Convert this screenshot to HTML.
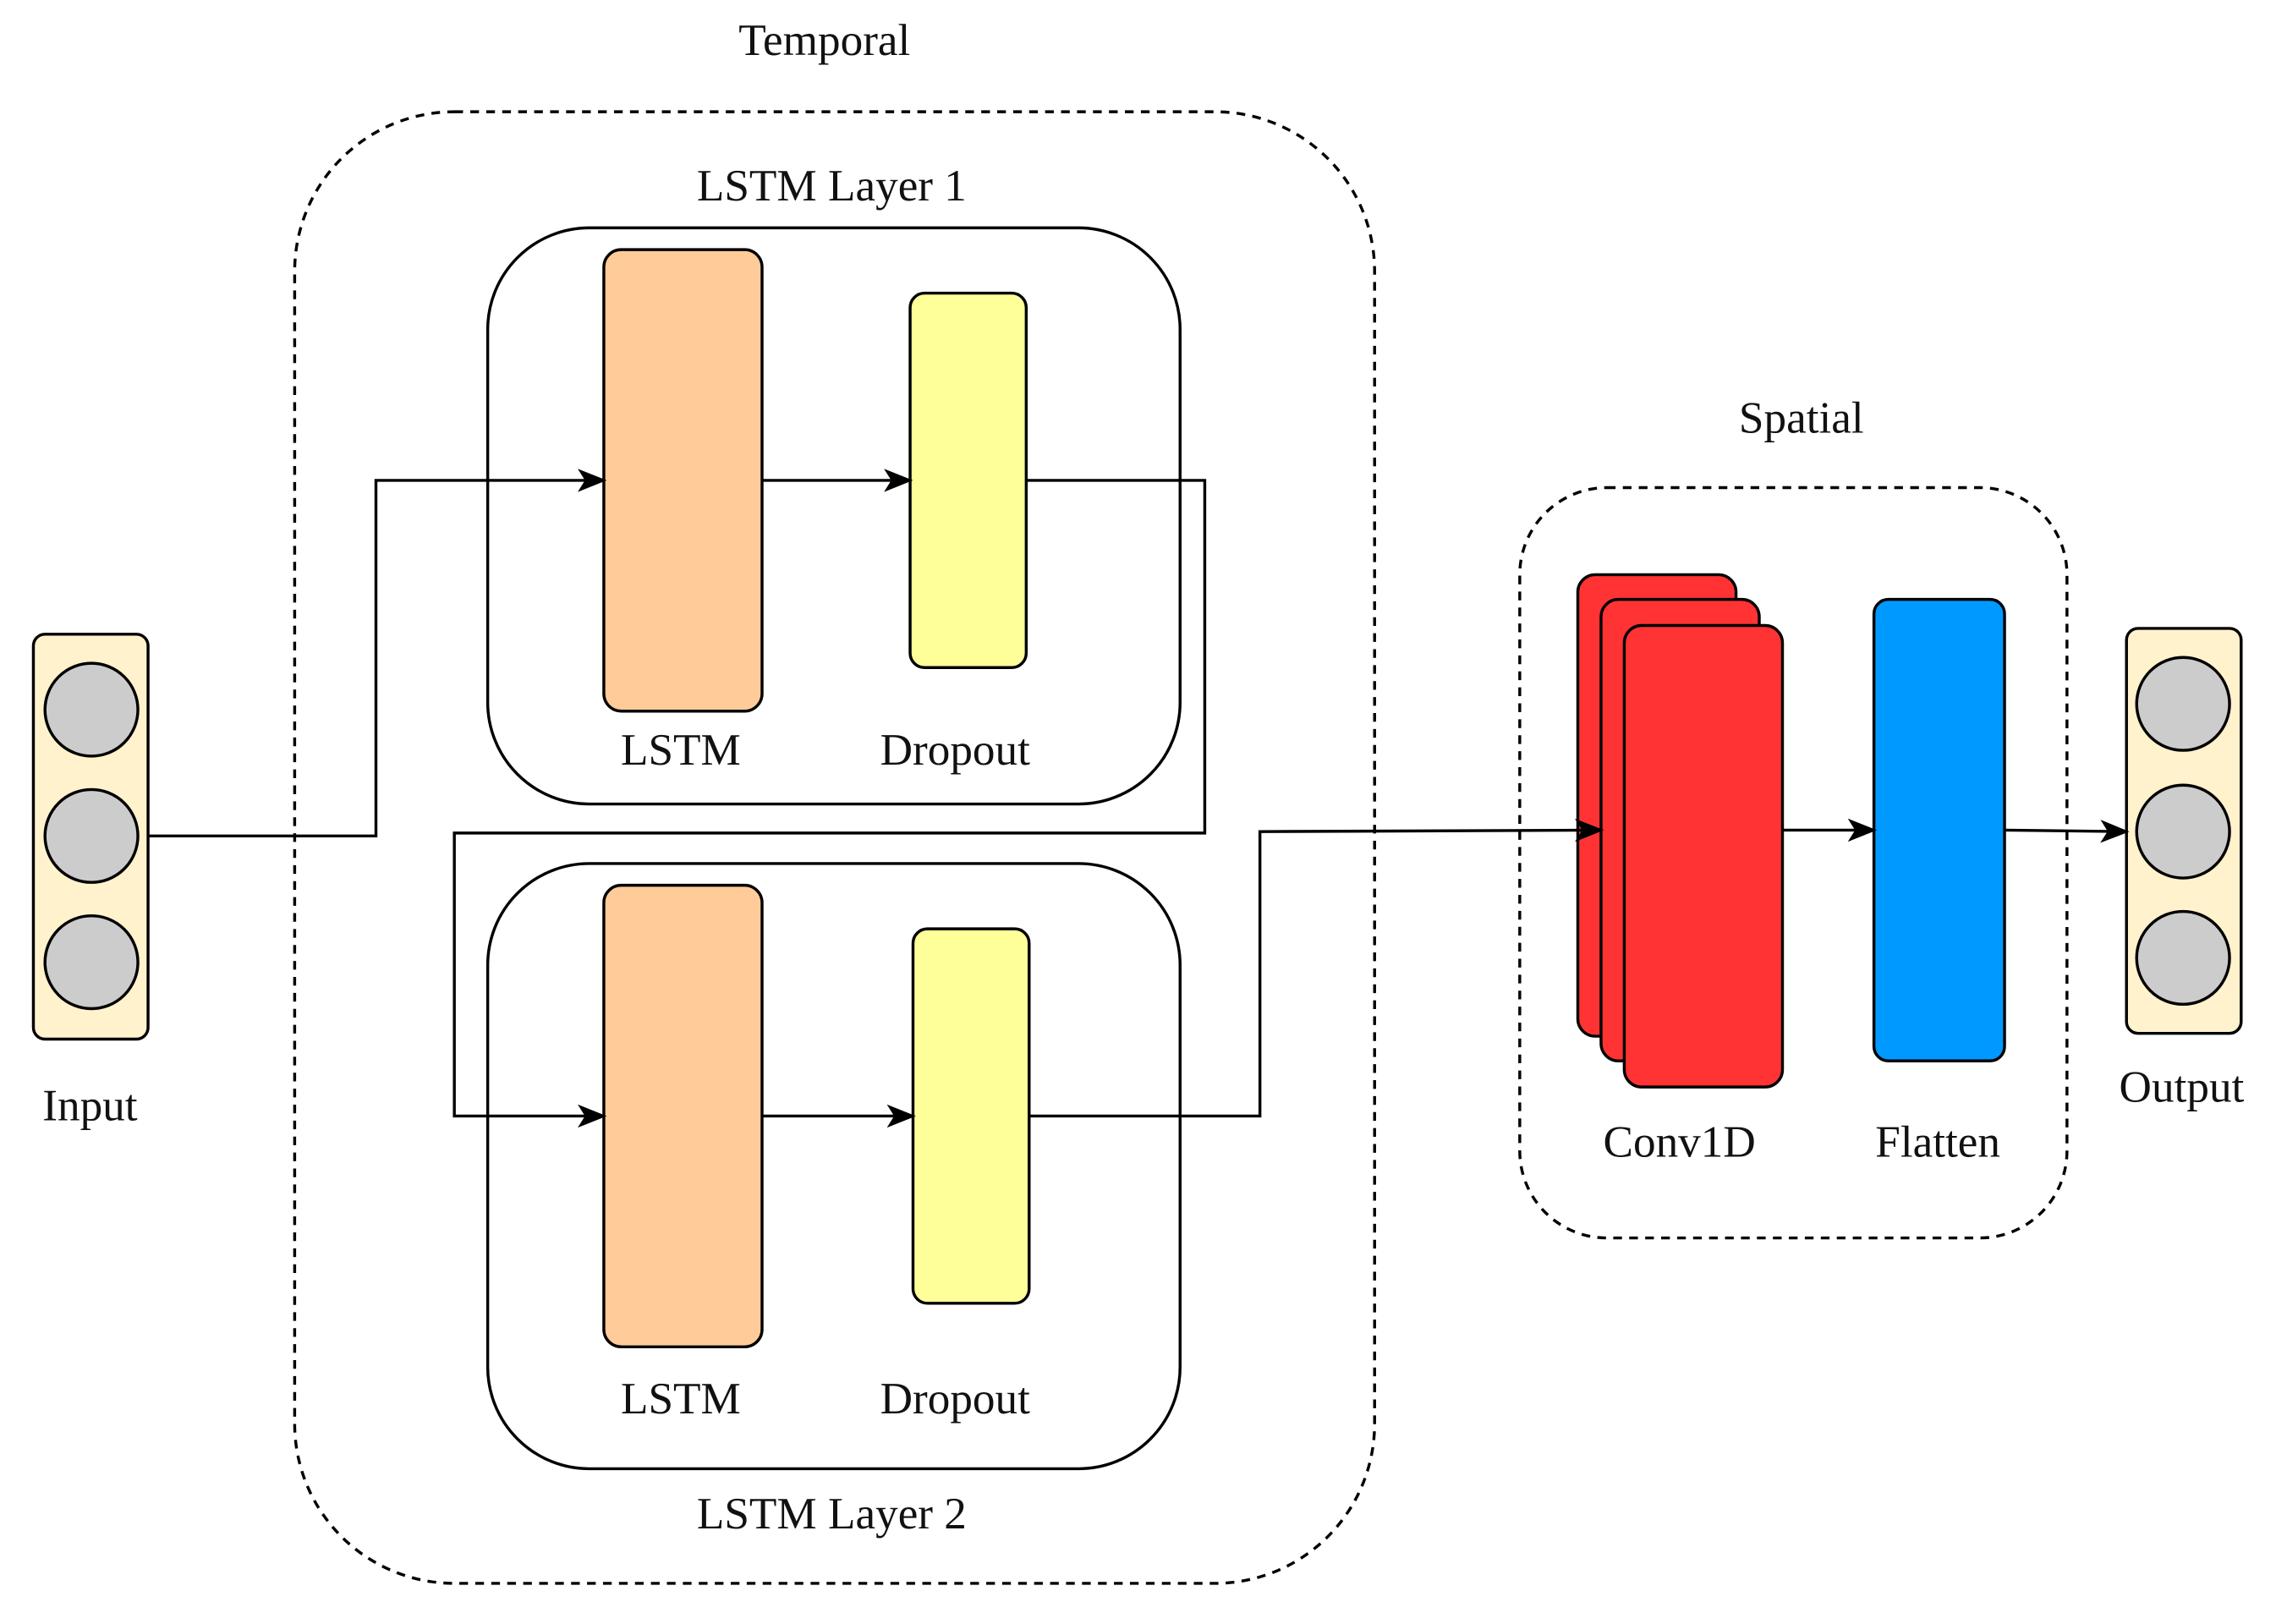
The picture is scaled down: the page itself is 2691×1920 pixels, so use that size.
<!DOCTYPE html>
<html><head><meta charset="utf-8"><style>
html,body{margin:0;padding:0;background:#fff;}
svg{display:block;}
text{font-family:"Liberation Serif",serif;font-size:31px;fill:#111;text-anchor:middle;}
</style></head><body>
<svg width="2691" height="1920" viewBox="0 0 1568 1119" preserveAspectRatio="none" xmlns="http://www.w3.org/2000/svg">
<defs>
<marker id="b" markerWidth="20" markerHeight="16" refX="18" refY="8" orient="auto" markerUnits="userSpaceOnUse" viewBox="0 0 20 16">
<path d="M0,0 L20,8 L0,16 L5,8 z" fill="#000"/></marker>
</defs>
<text x="568" y="38">Temporal</text>
<rect x="203" y="77" width="744" height="1014" rx="110" fill="none" stroke="#000" stroke-width="2" stroke-dasharray="6,5"/>
<text x="573" y="138">LSTM Layer 1</text>
<rect x="336" y="157" width="477" height="397" rx="70" fill="none" stroke="#000" stroke-width="2"/>
<rect x="416" y="172" width="109" height="318" rx="12" fill="#FFCC99" stroke="#000" stroke-width="2"/>
<rect x="627" y="202" width="80" height="258" rx="10" fill="#FFFF99" stroke="#000" stroke-width="2"/>
<text x="469" y="527">LSTM</text>
<text x="658" y="527">Dropout</text>
<rect x="336" y="595" width="477" height="417" rx="70" fill="none" stroke="#000" stroke-width="2"/>
<rect x="416" y="610" width="109" height="318" rx="12" fill="#FFCC99" stroke="#000" stroke-width="2"/>
<rect x="629" y="640" width="80" height="258" rx="10" fill="#FFFF99" stroke="#000" stroke-width="2"/>
<text x="469" y="974">LSTM</text>
<text x="658" y="974">Dropout</text>
<text x="573" y="1053">LSTM Layer 2</text>

<rect x="23" y="437" width="79" height="279" rx="8" fill="#FFF2CC" stroke="#000" stroke-width="2"/>
<circle cx="63" cy="489" r="32" fill="#CCCCCC" stroke="#000" stroke-width="2"/>
<circle cx="63" cy="576" r="32" fill="#CCCCCC" stroke="#000" stroke-width="2"/>
<circle cx="63" cy="663" r="32" fill="#CCCCCC" stroke="#000" stroke-width="2"/>
<text x="62" y="772">Input</text>

<rect x="1465" y="433" width="79" height="279" rx="8" fill="#FFF2CC" stroke="#000" stroke-width="2"/>
<circle cx="1504" cy="485" r="32" fill="#CCCCCC" stroke="#000" stroke-width="2"/>
<circle cx="1504" cy="573" r="32" fill="#CCCCCC" stroke="#000" stroke-width="2"/>
<circle cx="1504" cy="660" r="32" fill="#CCCCCC" stroke="#000" stroke-width="2"/>
<text x="1503" y="759">Output</text>

<text x="1241" y="298">Spatial</text>
<rect x="1047" y="336" width="377" height="517" rx="60" fill="none" stroke="#000" stroke-width="2" stroke-dasharray="6,5"/>
<rect x="1087" y="396" width="109" height="318" rx="12" fill="#FF3333" stroke="#000" stroke-width="2"/>
<rect x="1103" y="413" width="109" height="318" rx="12" fill="#FF3333" stroke="#000" stroke-width="2"/>
<rect x="1119" y="431" width="109" height="318" rx="12" fill="#FF3333" stroke="#000" stroke-width="2"/>
<text x="1157" y="797">Conv1D</text>
<rect x="1291" y="413" width="90" height="318" rx="10" fill="#0099FF" stroke="#000" stroke-width="2"/>
<text x="1335" y="797">Flatten</text>

<g fill="none" stroke="#000" stroke-width="2">
<polyline points="102,576 259,576 259,331 416,331" marker-end="url(#b)"/>
<polyline points="525,331 627,331" marker-end="url(#b)"/>
<polyline points="707,331 830,331 830,574 313,574 313,769 416,769" marker-end="url(#b)"/>
<polyline points="525,769 629,769" marker-end="url(#b)"/>
<polyline points="709,769 868,769 868,573 1103,572" marker-end="url(#b)"/>
<polyline points="1228,572 1291,572" marker-end="url(#b)"/>
<polyline points="1381,572 1465,573" marker-end="url(#b)"/>
</g>
</svg>
</body></html>
